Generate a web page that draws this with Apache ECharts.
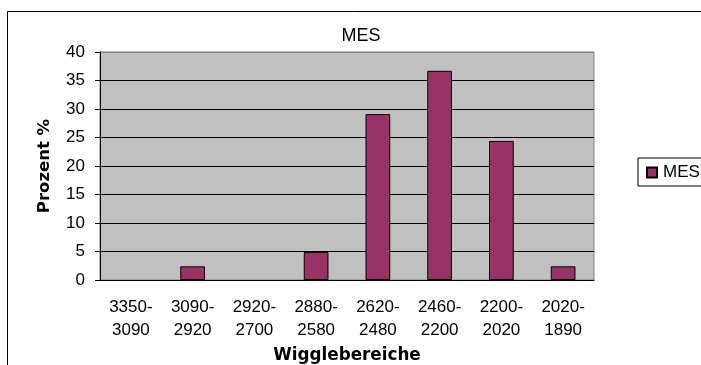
<!DOCTYPE html>
<html>
<head>
<meta charset="utf-8">
<script src="https://cdn.jsdelivr.net/npm/echarts@6/dist/echarts.min.js"></script>
<style>
  html, body { margin: 0; padding: 0; background: #fff; }
  #chart { width: 701px; height: 365px; }
</style>
</head>
<body>
<div id="chart"></div>
<script>
// Wiggle ranges (categories) and share in percent per range
const categories = ['3350-\n3090', '3090-\n2920', '2920-\n2700', '2880-\n2580', '2620-\n2480', '2460-\n2200', '2200-\n2020', '2020-\n1890'];
const mesValues = [0, 2.4, 0, 4.9, 29.1, 36.7, 24.4, 2.4];
const yTicks = [0, 5, 10, 15, 20, 25, 30, 35, 40];

const font = 'Liberation Sans, Arial, sans-serif';
const nameFont = 'DejaVu Sans, Liberation Sans, sans-serif';
const chart = echarts.init(document.getElementById('chart'));

// Empty classes get no outline so no stray line sits on the axis
const barData = mesValues.map(v => ({
  value: v,
  itemStyle: v === 0 ? { borderWidth: 0 } : undefined
}));

chart.setOption({
  animation: false,
  backgroundColor: '#fff',
  title: {
    text: 'MES',
    left: 356,
    textAlign: 'center',
    top: 22,
    textStyle: { fontFamily: font, fontSize: 18, fontWeight: 'normal', color: '#000' }
  },
  legend: {
    data: ['MES'],
    left: 638,
    top: 158,
    orient: 'vertical',
    itemWidth: 10,
    itemHeight: 10,
    itemGap: 0,
    padding: [6, 20, 5, 8],
    borderColor: '#000',
    borderWidth: 1,
    borderRadius: 0,
    icon: 'rect',
    textStyle: { fontFamily: font, fontSize: 17, color: '#000', padding: [0, 0, 0, 1] }
  },
  graphic: [{
    type: 'rect',
    shape: { x: 7.5, y: 11.5, width: 800, height: 500 },
    style: { fill: 'none', stroke: '#000', lineWidth: 1 },
    silent: true
  }],
  grid: {
    left: 100, right: 107, top: 52, bottom: 85,
    containLabel: false,
    outerBoundsMode: 'none',
    show: true,
    backgroundColor: '#c0c0c0',
    borderColor: '#808080',
    borderWidth: 1
  },
  xAxis: {
    type: 'category',
    data: categories,
    name: 'Wigglebereiche',
    nameLocation: 'middle',
    nameGap: 65,
    nameTextStyle: { fontFamily: nameFont, fontSize: 16.8, fontWeight: 'bold', color: '#000' },
    axisLine: { lineStyle: { color: '#000', width: 1 } },
    axisTick: { alignWithLabel: false, length: 6, lineStyle: { color: '#000' } },
    axisLabel: {
      fontFamily: font, fontSize: 17, color: '#000',
      lineHeight: 23, margin: 16, interval: 0
    }
  },
  yAxis: {
    type: 'value',
    min: yTicks[0],
    max: yTicks[yTicks.length - 1],
    interval: 5,
    name: 'Prozent %',
    nameLocation: 'middle',
    nameGap: 47,
    nameTextStyle: { fontFamily: nameFont, fontSize: 16.5, fontWeight: 'bold', color: '#000' },
    axisLine: { show: true, lineStyle: { color: '#000', width: 1 } },
    axisTick: { show: true, length: 5, lineStyle: { color: '#000' } },
    axisLabel: { fontFamily: font, fontSize: 17, color: '#000', margin: 15 },
    splitLine: {
      show: true,
      lineStyle: { color: ['#000', '#000', '#000', '#000', '#000', '#000', '#000', '#000', '#808080'], width: 1 }
    }
  },
  series: [{
    name: 'MES',
    type: 'bar',
    data: barData,
    barWidth: '40%',
    itemStyle: { color: '#993366', borderColor: '#000', borderWidth: 1 }
  }]
});
</script>
</body>
</html>
